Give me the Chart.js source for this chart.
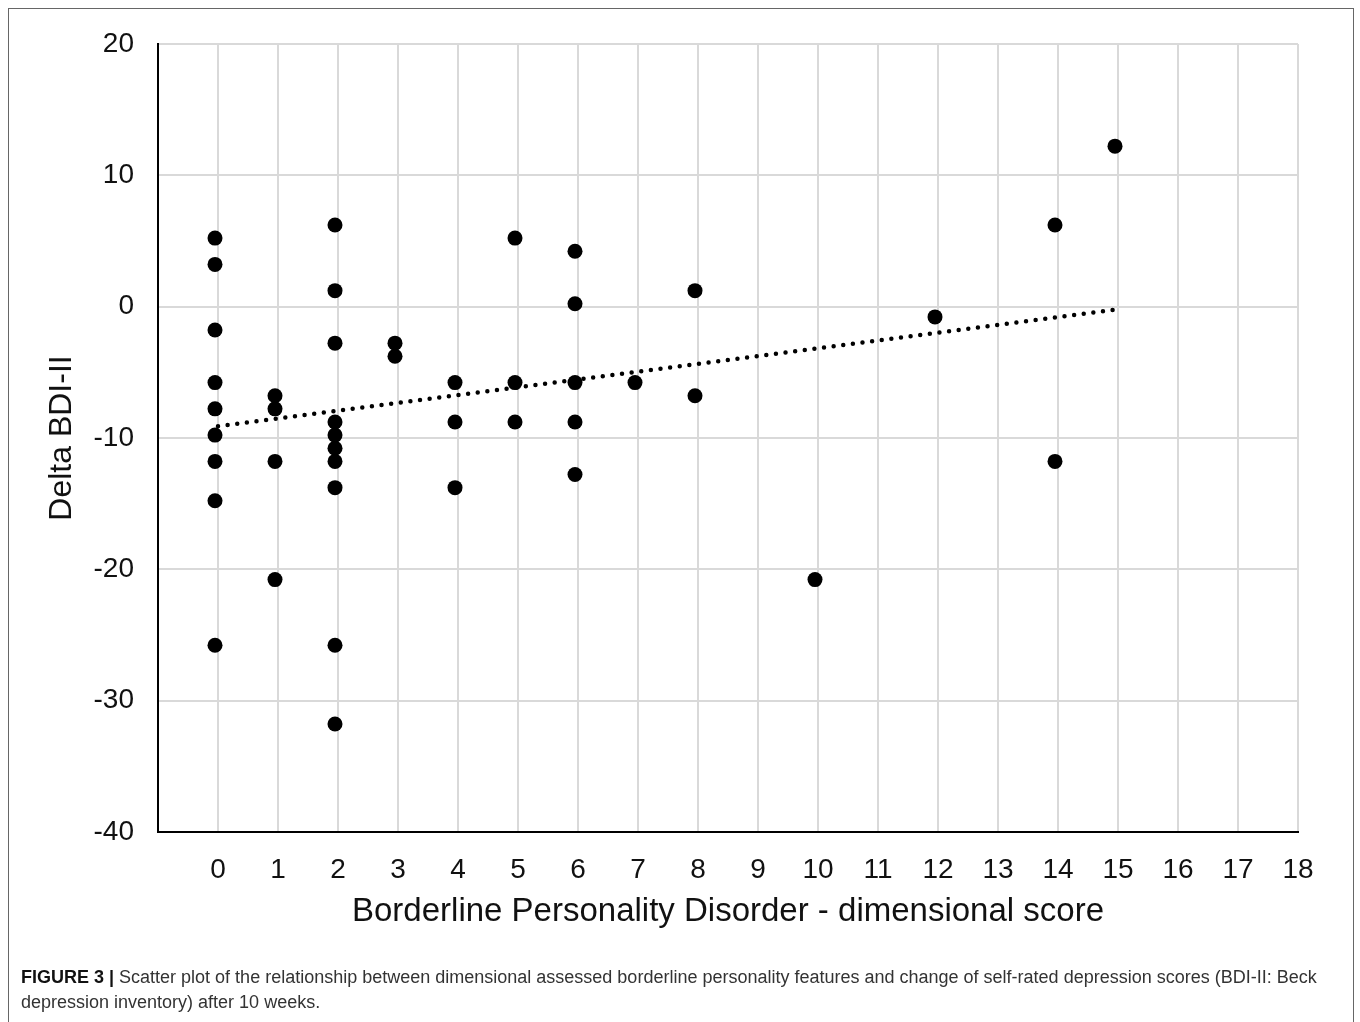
<!DOCTYPE html>
<html>
<head>
<meta charset="utf-8">
<script src="https://cdn.jsdelivr.net/npm/chart.js@4/dist/chart.umd.min.js"></script>
<style>
  body { margin: 0; background: #fff; }
  #wrap { position: relative; width: 1360px; height: 1022px; overflow: hidden; }
  #chart { position: absolute; left: 0; top: 0; }
  #frame { position: absolute; left: 8px; top: 8px; width: 1346px; height: 1040px; border: 1.5px solid #666; box-sizing: border-box; pointer-events: none; }
  #caption { position: absolute; left: 21px; top: 965px; font-family: 'Liberation Sans', Arial, sans-serif; font-size: 18px; line-height: 25px; color: #333; white-space: nowrap; }
  #caption b { color: #111; }
</style>
</head>
<body>
<div id="wrap">
  <canvas id="chart" width="1360" height="940"></canvas>
  <div id="frame"></div>
  <div id="caption"><b>FIGURE 3 |</b> Scatter plot of the relationship between dimensional assessed borderline personality features and change of self-rated depression scores (BDI-II: Beck<br>depression inventory) after 10 weeks.</div>
</div>
<script>
// borderline personality disorder score (x) and change in BDI-II (y), one entry per dot
const bpdScore = [0,0,0,0,0,0,0,0,0, 1,1,1,1, 2,2,2,2,2,2,2,2,2,2, 3,3, 4,4,4, 5,5,5, 6,6,6,6,6, 7, 8,8, 10, 12, 14,14, 15];
const deltaBdi = [5,3,-2,-6,-8,-10,-12,-15,-26, -7,-8,-12,-21, 6,1,-3,-9,-10,-11,-12,-14,-26,-32, -3,-4, -6,-9,-14, 5,-6,-9, 4,0,-6,-9,-13, -6, 1,-7, -21, -1, 6,-12, 12];

// dotted trend line, end points
const trendX = [0, 15];
const trendY = [-9.1, -0.2];

const xTickLabels = ['0','1','2','3','4','5','6','7','8','9','10','11','12','13','14','15','16','17','18'];

// the dots in the original sit a few pixels up-left of the grid
const nudgeX = -0.05, nudgeY = 0.22;

const fontFam = "'Liberation Sans', Arial, sans-serif";

const pts = bpdScore.map((x, i) => ({ x: x + nudgeX, y: deltaBdi[i] + nudgeY }));
const trend = trendX.map((x, i) => ({ x: x, y: trendY[i] }));

new Chart(document.getElementById('chart').getContext('2d'), {
  type: 'scatter',
  data: {
    datasets: [
      {
        data: pts,
        backgroundColor: '#000',
        borderWidth: 0,
        pointRadius: 7.5,
        pointHoverRadius: 7.5
      },
      {
        type: 'line',
        data: trend,
        showLine: true,
        borderColor: '#000',
        borderWidth: 4.5,
        borderDash: [0, 9.7],
        borderCapStyle: 'round',
        pointRadius: 0,
        fill: false
      }
    ]
  },
  options: {
    responsive: false,
    animation: false,
    plugins: { legend: { display: false }, tooltip: { enabled: false } },
    layout: { padding: { top: 44, right: 62, left: 0, bottom: 0 } },
    scales: {
      x: {
        type: 'linear',
        min: -1,
        max: 18,
        ticks: {
          stepSize: 1,
          padding: 21,
          color: '#111',
          font: { family: fontFam, size: 28 },
          callback: v => (v >= 0 ? xTickLabels[v] : '')
        },
        grid: { color: '#d9d9d9', lineWidth: 2, drawTicks: false },
        border: { color: '#000', width: 2 },
        title: {
          display: true,
          text: 'Borderline Personality Disorder - dimensional score',
          color: '#111',
          font: { family: fontFam, size: 33 },
          padding: { top: 0, bottom: 8 }
        },
        afterFit: s => { s.height = 108; }
      },
      y: {
        min: -40,
        max: 20,
        ticks: {
          stepSize: 10,
          padding: 24,
          color: '#111',
          font: { family: fontFam, size: 28 }
        },
        grid: { color: '#d9d9d9', lineWidth: 2, drawTicks: false },
        border: { color: '#000', width: 2 },
        title: {
          display: true,
          text: 'Delta BDI-II',
          color: '#111',
          font: { family: fontFam, size: 32 },
          padding: { top: 43, bottom: 0 }
        },
        afterFit: s => { s.width = 158; }
      }
    }
  }
});
</script>
</body>
</html>
